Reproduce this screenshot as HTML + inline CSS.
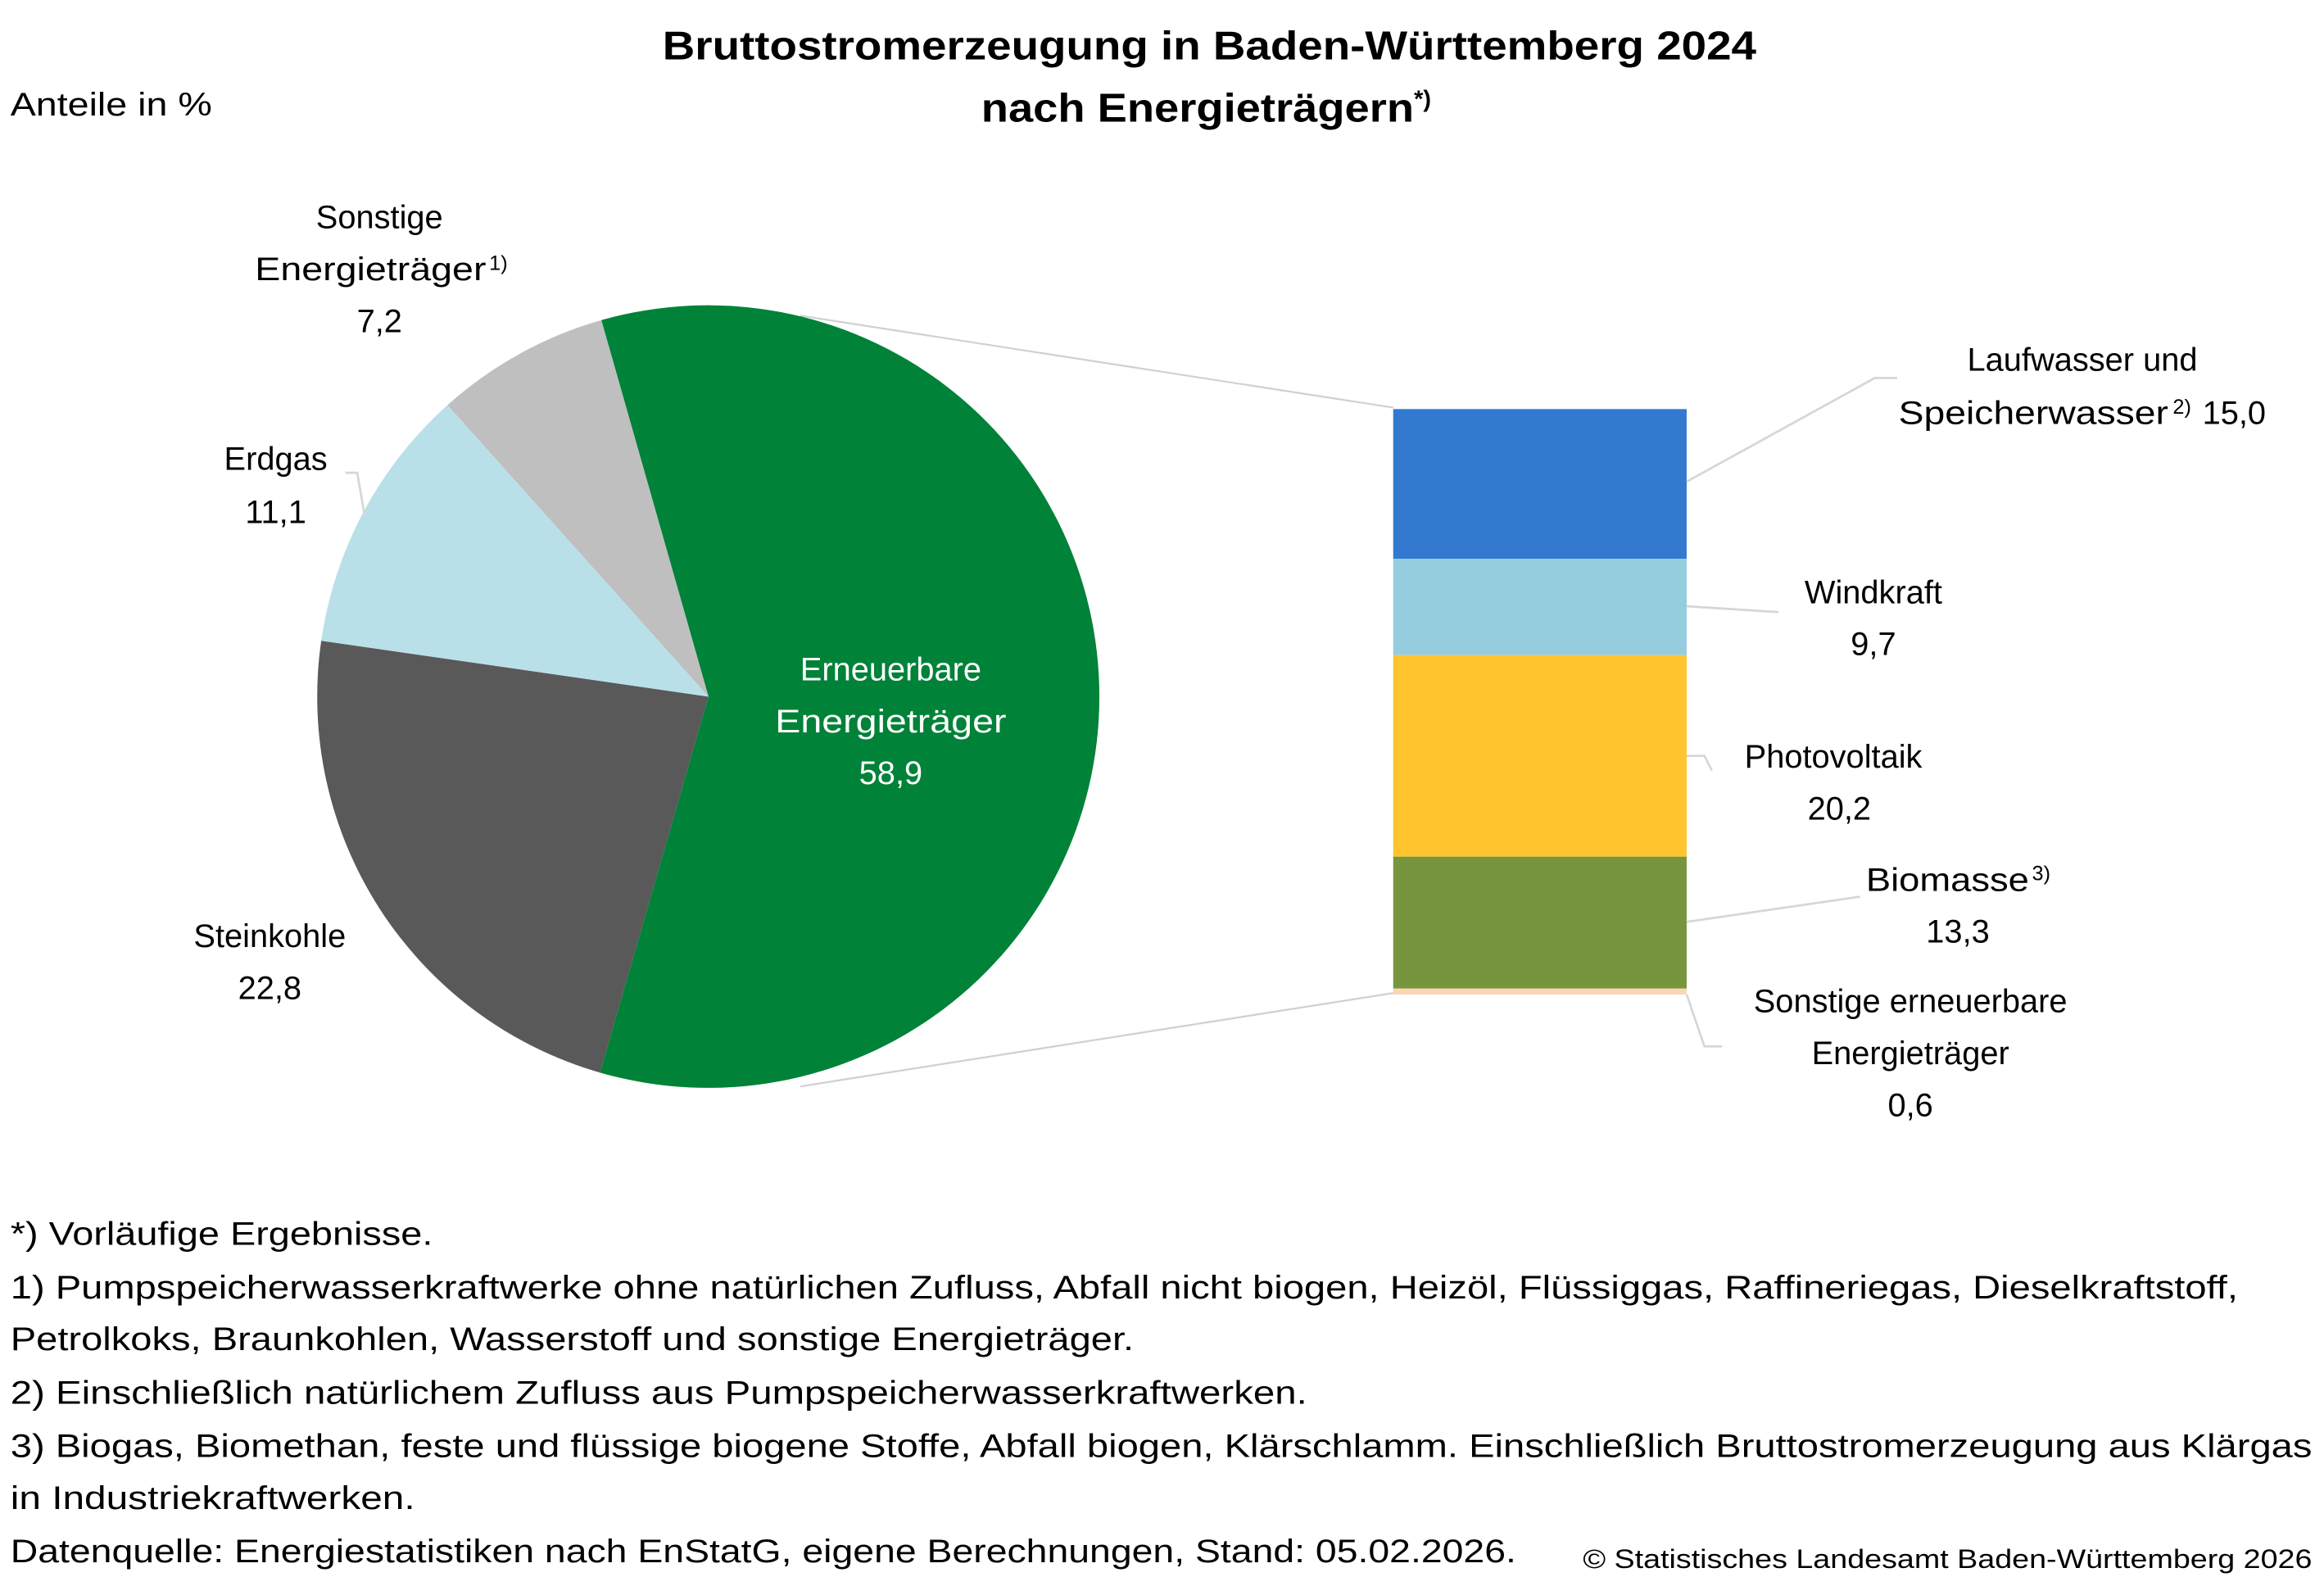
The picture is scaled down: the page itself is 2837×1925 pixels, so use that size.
<!DOCTYPE html>
<html><head><meta charset="utf-8"><style>html,body{margin:0;padding:0;background:#fff}svg{display:block}text{font-family:"Liberation Sans",sans-serif;fill:#000}</style></head>
<body>
<svg width="2837" height="1925" viewBox="0 0 1568 1064" xmlns="http://www.w3.org/2000/svg">
<rect width="1568" height="1064" fill="#fff"/>
<text x="816" y="40" font-size="27" font-weight="bold" text-anchor="middle" textLength="738" lengthAdjust="spacingAndGlyphs">Bruttostromerzeugung in Baden-Württemberg 2024</text>
<text x="662" y="82" font-size="27" font-weight="bold" textLength="292" lengthAdjust="spacingAndGlyphs">nach Energieträgern</text>
<text x="954" y="72" font-size="16" font-weight="bold">*)</text>
<text x="7" y="78" font-size="22" textLength="136" lengthAdjust="spacingAndGlyphs">Anteile in %</text>

<line x1="540" y1="213" x2="940" y2="275" stroke="#d0d0d0" stroke-width="1.2"/>
<line x1="540" y1="733" x2="940" y2="670" stroke="#d0d0d0" stroke-width="1.2"/>

<path d="M478,470 L405.7,216 A264,264 0 1 1 404.8,723.7 Z" fill="#008238"/>
<path d="M478,470 L404.8,723.7 A264,264 0 0 1 216.7,432.3 Z" fill="#595959"/>
<path d="M478,470 L216.7,432.3 A264,264 0 0 1 301.9,273.3 Z" fill="#B9E0E9"/>
<path d="M478,470 L301.9,273.3 A264,264 0 0 1 405.7,216 Z" fill="#BFBFBF"/>

<rect x="940" y="276" width="198" height="101" fill="#3379CF"/>
<rect x="940" y="377" width="198" height="65" fill="#95CDDE"/>
<rect x="940" y="442" width="198" height="136" fill="#FFC42E"/>
<rect x="940" y="578" width="198" height="89" fill="#77953C"/>
<rect x="940" y="667" width="198" height="4" fill="#FDD4B4"/>

<g stroke="#d6d6d6" stroke-width="1.5" fill="none">
<polyline points="1138,325 1265,255 1280,255"/>
<polyline points="1138,409 1200,413"/>
<polyline points="1138,510 1150,510 1155,520"/>
<polyline points="1138,622 1255,605"/>
<polyline points="1138,671 1150,706 1162,706"/>
<polyline points="233,319 241,319 246,348"/>
</g>

<g font-size="22" text-anchor="middle">
<text x="256" y="154">Sonstige</text>
<text x="172" y="189" text-anchor="start" textLength="156" lengthAdjust="spacingAndGlyphs">Energieträger</text><text x="330" y="182" font-size="14" text-anchor="start">1)</text>
<text x="256" y="224">7,2</text>
<text x="186" y="317">Erdgas</text>
<text x="186" y="353">11,1</text>
<text x="182" y="639">Steinkohle</text>
<text x="182" y="674">22,8</text>
<text x="601" y="459" style="fill:#fff">Erneuerbare</text>
<text x="601" y="494" style="fill:#fff" textLength="156" lengthAdjust="spacingAndGlyphs">Energieträger</text>
<text x="601" y="529" style="fill:#fff">58,9</text>
<text x="1405" y="250">Laufwasser und</text>
<text x="1281" y="286" text-anchor="start" textLength="182" lengthAdjust="spacingAndGlyphs">Speicherwasser</text><text x="1466" y="279" font-size="14" text-anchor="start">2)</text>
<text x="1486" y="286" text-anchor="start">15,0</text>
<text x="1264" y="407">Windkraft</text>
<text x="1264" y="442">9,7</text>
<text x="1237" y="518">Photovoltaik</text>
<text x="1241" y="553">20,2</text>
<text x="1259" y="601" text-anchor="start" textLength="110" lengthAdjust="spacingAndGlyphs">Biomasse</text><text x="1371" y="594" font-size="14" text-anchor="start">3)</text>
<text x="1321" y="636">13,3</text>
<text x="1289" y="683">Sonstige erneuerbare</text>
<text x="1289" y="718">Energieträger</text>
<text x="1289" y="753">0,6</text>
</g>

<g font-size="22">
<text x="7" y="840" textLength="285" lengthAdjust="spacingAndGlyphs">*) Vorläufige Ergebnisse.</text>
<text x="7" y="876" textLength="1503" lengthAdjust="spacingAndGlyphs">1) Pumpspeicherwasserkraftwerke ohne natürlichen Zufluss, Abfall nicht biogen, Heizöl, Flüssiggas, Raffineriegas, Dieselkraftstoff,</text>
<text x="7" y="911" textLength="758" lengthAdjust="spacingAndGlyphs">Petrolkoks, Braunkohlen, Wasserstoff und sonstige Energieträger.</text>
<text x="7" y="947" textLength="875" lengthAdjust="spacingAndGlyphs">2) Einschließlich natürlichem Zufluss aus Pumpspeicherwasserkraftwerken.</text>
<text x="7" y="983" textLength="1553" lengthAdjust="spacingAndGlyphs">3) Biogas, Biomethan, feste und flüssige biogene Stoffe, Abfall biogen, Klärschlamm. Einschließlich Bruttostromerzeugung aus Klärgas</text>
<text x="7" y="1018" textLength="273" lengthAdjust="spacingAndGlyphs">in Industriekraftwerken.</text>
<text x="7" y="1054" textLength="1016" lengthAdjust="spacingAndGlyphs">Datenquelle: Energiestatistiken nach EnStatG, eigene Berechnungen, Stand: 05.02.2026.</text>
<text x="1068" y="1058" font-size="18" textLength="492" lengthAdjust="spacingAndGlyphs">© Statistisches Landesamt Baden-Württemberg 2026</text>
</g>
</svg>
</body></html>
